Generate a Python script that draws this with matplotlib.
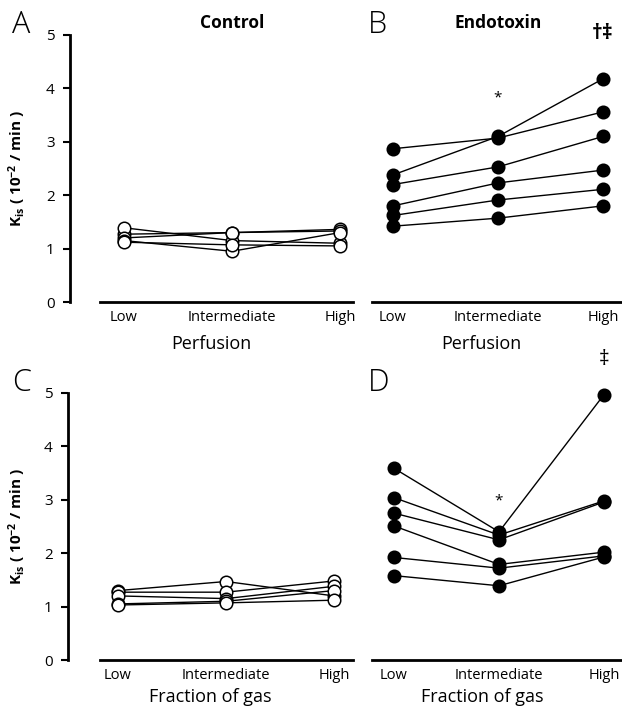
import matplotlib
matplotlib.use("Agg")
import matplotlib.pyplot as plt

plt.rcParams["font.family"] = ["Open Sans", "DejaVu Sans"]
plt.rcParams["mathtext.default"] = "regular"

# ---------------------------------------------------------------------------
# Data
# ---------------------------------------------------------------------------
levels = ["Low", "Intermediate", "High"]

control_perfusion = [
    [1.27, 1.30, 1.36],
    [1.39, 1.15, 1.10],
    [1.20, 1.30, 1.33],
    [1.15, 0.95, 1.30],
    [1.12, 1.07, 1.05],
]
endotoxin_perfusion = [
    [2.87, 3.07, 3.56],
    [2.38, 3.10, 4.18],
    [2.20, 2.53, 3.10],
    [1.80, 2.23, 2.47],
    [1.62, 1.91, 2.11],
    [1.42, 1.57, 1.80],
]
control_gas = [
    [1.30, 1.47, 1.20],
    [1.27, 1.27, 1.48],
    [1.20, 1.15, 1.38],
    [1.05, 1.10, 1.30],
    [1.03, 1.07, 1.12],
]
endotoxin_gas = [
    [3.59, 2.40, 4.97],
    [3.04, 2.34, 2.98],
    [2.75, 2.25, 2.96],
    [2.51, 1.79, 2.02],
    [1.92, 1.72, 1.95],
    [1.58, 1.39, 1.93],
]

W, H = 622, 707
fig = plt.figure(figsize=(W / 100, H / 100), dpi=100)


def make_axes(left_px, right_px, top_px, bottom_px, low_px, step_px, xstart_px):
    ax = fig.add_axes([left_px / W, 1 - bottom_px / H,
                       (right_px - left_px) / W, (bottom_px - top_px) / H])
    ax.patch.set_visible(False)
    ax.set_xlim((left_px - low_px) / step_px, (right_px - low_px) / step_px)
    ax.set_ylim(0, 5)
    ax.spines["top"].set_visible(False)
    ax.spines["right"].set_visible(False)
    ax.spines["bottom"].set_bounds((xstart_px - low_px) / step_px,
                                   (right_px - low_px) / step_px)
    ax.spines["bottom"].set_linewidth(2)
    ax.spines["left"].set_linewidth(2)
    ax.set_xticks(range(len(levels)))
    ax.set_xticklabels(levels, fontsize=10.5)
    ax.tick_params(axis="x", length=0, pad=6)
    ax.tick_params(axis="y", length=5, width=1.5, labelsize=11, pad=6)
    ax.set_yticks(range(6))
    return ax


def draw(ax, series, face):
    for s in series:
        ax.plot(range(len(levels)), s, color="black", lw=1,
                marker="o", markersize=9, markerfacecolor=face,
                markeredgecolor="black", markeredgewidth=1.1, clip_on=False)


axA = make_axes(70, 353, 35, 302, 124, 108, 100)
axB = make_axes(341, 622, 35, 302, 393, 105, 372)
axC = make_axes(68, 353, 393, 660, 118, 108, 100)
axD = make_axes(342, 622, 393, 660, 394, 105, 372)

for ax in (axB, axD):
    ax.spines["left"].set_visible(False)
    ax.tick_params(axis="y", left=False, labelleft=False)

draw(axA, control_perfusion, "white")
draw(axB, endotoxin_perfusion, "black")
draw(axC, control_gas, "white")
draw(axD, endotoxin_gas, "black")

ylabel = "K$_{is}$ ( 10$^{-2}$ / min )"
for ax in (axA, axC):
    pos = ax.get_position()
    ax.set_ylabel(ylabel, fontsize=11, fontweight="bold")
    ax.yaxis.set_label_coords(-(pos.x0 * W - 28) / (pos.width * W), 0.5)

for ax in (axA, axB):
    ax.set_xlabel("Perfusion", fontsize=13, labelpad=7)
for ax in (axC, axD):
    ax.set_xlabel("Fraction of gas", fontsize=13, labelpad=3)

axA.text(1, 1.045, "Control", transform=axA.get_xaxis_transform(),
         ha="center", va="center", fontsize=12.5, fontweight="bold")
axB.text(1, 1.045, "Endotoxin", transform=axB.get_xaxis_transform(),
         ha="center", va="center", fontsize=12.5, fontweight="bold")

axB.text(1, 3.82, "*", ha="center", va="center", fontsize=11)
axB.text(2, 5.03, "\u2020\u2021", ha="center", va="center", fontsize=15,
         fontweight="bold", clip_on=False)
axD.text(1, 2.98, "*", ha="center", va="center", fontsize=11)
axD.text(2, 5.62, "\u2021", ha="center", va="center", fontsize=15,
         clip_on=False)

for letter, x, y in [("A", 12, 25), ("B", 368, 25), ("C", 12, 383), ("D", 368, 383)]:
    fig.text(x / W, 1 - y / H, letter, fontsize=22, ha="left", va="center",
             fontweight="light")

fig.savefig("out.png", dpi=100)
